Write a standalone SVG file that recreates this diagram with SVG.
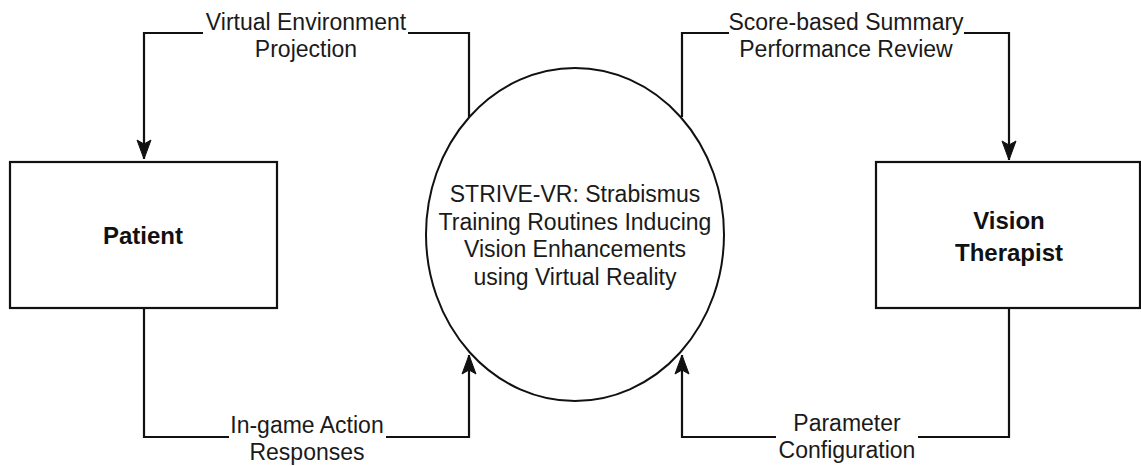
<svg xmlns="http://www.w3.org/2000/svg" width="1141" height="466" viewBox="0 0 1141 466">
  <style>
    .bg { fill: #ffffff; }
    .box { fill: #ffffff; stroke: #111111; stroke-width: 2.2; }
    .proc { fill: #ffffff; stroke: #111111; stroke-width: 2; }
    .edge { fill: none; stroke: #111111; stroke-width: 2.2; }
    .lbl { font-family: "Liberation Sans", Arial, sans-serif; font-size: 23px; fill: #1a1a1a; text-anchor: middle; }
    .node { font-family: "Liberation Sans", Arial, sans-serif; font-size: 24px; font-weight: bold; fill: #111111; text-anchor: middle; }
    .lblbg { fill: #ffffff; stroke: none; }
  </style>
  <defs>
    <marker id="arrow" markerUnits="userSpaceOnUse" viewBox="-20 -8 21 16" markerWidth="21" markerHeight="16" refX="0" refY="0" orient="auto">
      <path d="M0,0 L-19,-7 L-15,0 L-19,7 Z" fill="#111111" stroke="#111111" stroke-width="1" stroke-linejoin="miter"/>
    </marker>
  </defs>
  <rect class="bg" x="0" y="0" width="1141" height="466"/>

  <g id="connectors">
    <path class="edge" d="M469,117 L469,33 L144,33 L144,159" marker-end="url(#arrow)"/>
    <path class="edge" d="M144,308 L144,437 L469,437 L469,355" marker-end="url(#arrow)"/>
    <path class="edge" d="M682,117 L682,33 L1009,33 L1009,160" marker-end="url(#arrow)"/>
    <path class="edge" d="M1009,308 L1009,437 L682,437 L682,355" marker-end="url(#arrow)"/>

    <g id="label-vep">
      <rect class="lblbg" x="203" y="10" width="205" height="54"/>
      <text class="lbl" x="306" y="30">Virtual Environment</text>
      <text class="lbl" x="306" y="57">Projection</text>
    </g>
    <g id="label-sbs">
      <rect class="lblbg" x="729" y="10" width="235" height="54"/>
      <text class="lbl" x="846" y="30">Score-based Summary</text>
      <text class="lbl" x="846" y="57">Performance Review</text>
    </g>
    <g id="label-iar">
      <rect class="lblbg" x="229" y="412" width="157" height="54"/>
      <text class="lbl" x="307" y="433">In-game Action</text>
      <text class="lbl" x="307" y="460">Responses</text>
    </g>
    <g id="label-pc">
      <rect class="lblbg" x="776" y="410" width="142" height="56"/>
      <text class="lbl" x="847" y="431">Parameter</text>
      <text class="lbl" x="847" y="458">Configuration</text>
    </g>
  </g>

  <g id="patient">
    <rect class="box" x="10" y="162" width="267" height="146"/>
    <text class="node" x="143" y="244">Patient</text>
  </g>

  <g id="vision-therapist">
    <rect class="box" x="876" y="162" width="264" height="146"/>
    <text class="node" x="1009" y="229">Vision</text>
    <text class="node" x="1009" y="261">Therapist</text>
  </g>

  <g id="strive-vr">
    <ellipse class="proc" cx="575" cy="234.5" rx="149" ry="166.5"/>
    <text class="lbl" x="575" y="202">STRIVE-VR: Strabismus</text>
    <text class="lbl" x="575" y="230">Training Routines Inducing</text>
    <text class="lbl" x="575" y="257">Vision Enhancements</text>
    <text class="lbl" x="575" y="285">using Virtual Reality</text>
  </g>
</svg>
